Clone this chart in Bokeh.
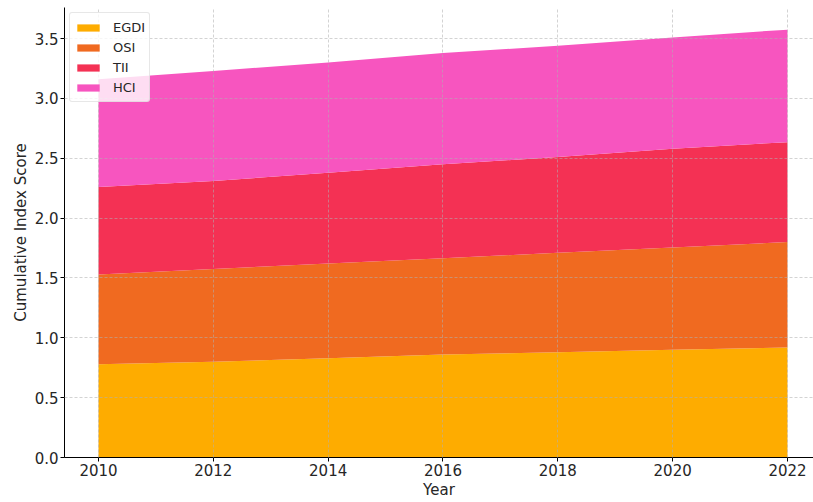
from bokeh.plotting import figure
from bokeh.models import ColumnDataSource, FixedTicker, NumeralTickFormatter, Range1d
from bokeh.embed import file_html
from bokeh.resources import INLINE

# ---- data ----
years = [2010, 2012, 2014, 2016, 2018, 2020, 2022]
egdi = [0.78, 0.80, 0.83, 0.86, 0.88, 0.90, 0.92]
osi = [0.75, 0.775, 0.79, 0.805, 0.83, 0.855, 0.88]
tii = [0.73, 0.735, 0.76, 0.785, 0.80, 0.825, 0.835]
hci = [0.90, 0.92, 0.92, 0.93, 0.93, 0.93, 0.94]
series_names = ["EGDI", "OSI", "TII", "HCI"]
colors = ["#FEAC00", "#F06A20", "#F43154", "#F755BF"]
x_ticks = [2010, 2012, 2014, 2016, 2018, 2020, 2022]
y_ticks = [0.0, 0.5, 1.0, 1.5, 2.0, 2.5, 3.0, 3.5]

source = ColumnDataSource(dict(year=years, EGDI=egdi, OSI=osi, TII=tii, HCI=hci))

FONT = "DejaVu Sans"
TXT = "#262626"

p = figure(width=813, height=502, output_backend="svg", toolbar_location=None,
           x_range=Range1d(2009.408, 2022.453), y_range=Range1d(0, 3.76),
           min_border_left=64, min_border_right=0, min_border_top=7, min_border_bottom=45)

renderers = p.varea_stack(stackers=series_names, x="year", source=source,
                          color=colors, legend_label=series_names)

p.outline_line_color = None
p.background_fill_color = "white"
p.border_fill_color = "white"

for g in (p.xgrid, p.ygrid):
    g.grid_line_color = "#b0b0b0"
    g.grid_line_alpha = 0.7
    g.grid_line_dash = "3 2"
    g.grid_line_width = 0.8
    g.level = "guide"

p.xaxis.ticker = FixedTicker(ticks=x_ticks)
p.yaxis.ticker = FixedTicker(ticks=y_ticks)
p.xaxis.formatter = NumeralTickFormatter(format="0")
p.yaxis.formatter = NumeralTickFormatter(format="0.0")

for ax in (p.xaxis, p.yaxis):
    ax.axis_line_color = "black"
    ax.axis_line_width = 1
    ax.major_tick_line_color = "black"
    ax.major_tick_out = 4
    ax.major_tick_in = 0
    ax.minor_tick_line_color = None
    ax.major_label_text_font = FONT
    ax.major_label_text_font_size = "15px"
    ax.major_label_text_color = TXT
    ax.axis_label_text_font = FONT
    ax.axis_label_text_font_size = "15px"
    ax.axis_label_text_color = TXT
    ax.axis_label_text_font_style = "normal"
    ax.major_label_standoff = 2
    ax.axis_label_standoff = 2

p.xaxis.axis_label = "Year"
p.yaxis.axis_label = "Cumulative Index Score"

lg = p.legend[0]
lg.location = "top_left"
lg.margin = 5
lg.padding = 4
lg.spacing = 0
lg.glyph_width = 28
lg.glyph_height = 9
lg.label_height = 20
lg.label_standoff = 11
lg.label_text_font = FONT
lg.label_text_font_size = "13px"
lg.label_text_color = TXT
lg.background_fill_color = "white"
lg.background_fill_alpha = 0.8
lg.border_line_color = "#d0d0d0"
lg.border_line_width = 1
lg.border_radius = 3

open("out.html", "w").write(file_html(p, INLINE))
